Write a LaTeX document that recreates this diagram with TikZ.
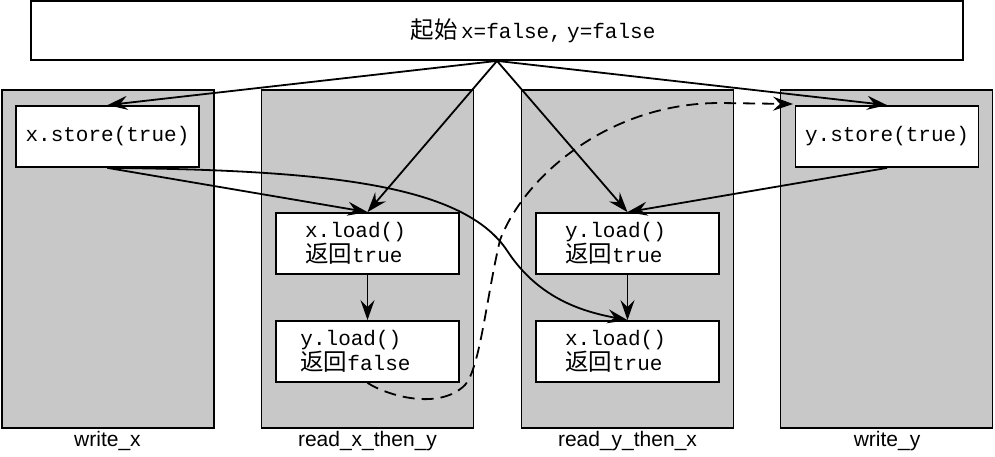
\documentclass[tikz,border=0pt]{standalone}
\usepackage{fontspec}
\setmainfont{Liberation Sans}
\setmonofont{Liberation Mono}
\newfontfamily\cjk{Noto Sans CJK SC}
\usetikzlibrary{arrows.meta}
\definecolor{panelgray}{RGB}{200,200,200}
\tikzset{
  panel/.style={draw=black, line width=1.8pt, fill=panelgray, minimum width=212pt, minimum height=338pt, inner sep=0pt},
  opbox/.style={draw=black, line width=1.8pt, fill=white, minimum width=183pt, minimum height=61pt, inner sep=0pt, align=left, font=\fontsize{21}{25}\selectfont\ttfamily},
  topbox/.style={draw=black, line width=1.8pt, fill=white, minimum width=932pt, minimum height=59pt, inner sep=0pt, font=\fontsize{21}{25}\selectfont\ttfamily},
  lbl/.style={font=\fontsize{21}{24}\selectfont\rmfamily},
  arr/.style={line width=1.8pt, -{Stealth[length=20pt,width=14pt,inset=7pt]}},
}
\newcommand{\zh}[1]{{\fontsize{23.5}{25}\selectfont\cjk #1}}
\newcommand{\pad}{\hspace*{24pt}}
\begin{document}
\begin{tikzpicture}[x=1pt,y=-1pt]
\useasboundingbox (0,0) rectangle (995,457);
\node[topbox] (top) at (497,30.5) {\hspace*{72pt}\zh{起始}\,x=false,\hspace{-0.35em} y=false};
\node[panel] (p1) at (108,259) {};
\node[panel] (p2) at (367.5,259) {};
\node[panel] (p3) at (627.5,259) {};
\node[panel] (p4) at (886.5,259) {};
\node[lbl] (l1) at (107.5,441) {write\_x};
\node[lbl] (l2) at (367.5,441) {read\_x\_then\_y};
\node[lbl] (l3) at (627.5,441) {read\_y\_then\_x};
\node[lbl] (l4) at (887,441) {write\_y};
\node[opbox] (xs) at (107.5,136.5) {x.store(true)};
\node[opbox] (ys) at (887,136.5) {y.store(true)};
\node[opbox] (xl1) at (367.5,243.5) {x.load()\pad\\\zh{返回}true\pad};
\node[opbox] (yl1) at (367.5,351.5) {y.load()\pad\\\zh{返回}false\pad};
\node[opbox] (yl2) at (627.5,243.5) {y.load()\pad\\\zh{返回}true\pad};
\node[opbox] (xl2) at (627.5,351.5) {x.load()\pad\\\zh{返回}true\pad};
\coordinate (dend) at (793,104);
\draw[arr] (top.south) -- (xs.north);
\draw[arr] (top.south) -- (xl1.north);
\draw[arr] (top.south) -- (yl2.north);
\draw[arr] (top.south) -- (ys.north);
\draw[arr] (xs.south) -- (xl1.north);
\draw[arr] (ys.south) -- (yl2.north);
\draw[arr] (xl1.south) -- (yl1.north);
\draw[arr] (yl2.south) -- (xl2.north);
\draw[arr] (xs.south) .. controls (330,170) and (465,185) .. (508,252) .. controls (540,300) and (585,312) .. (xl2.north);
\draw[arr, dash pattern=on 12pt off 7pt] (yl1.south) .. controls (390,397) and (440,410) .. (465,385) .. controls (480,368) and (486,300) .. (500,240) .. controls (525,175) and (610,103) .. (720,103) -- (dend);
\end{tikzpicture}
\end{document}
